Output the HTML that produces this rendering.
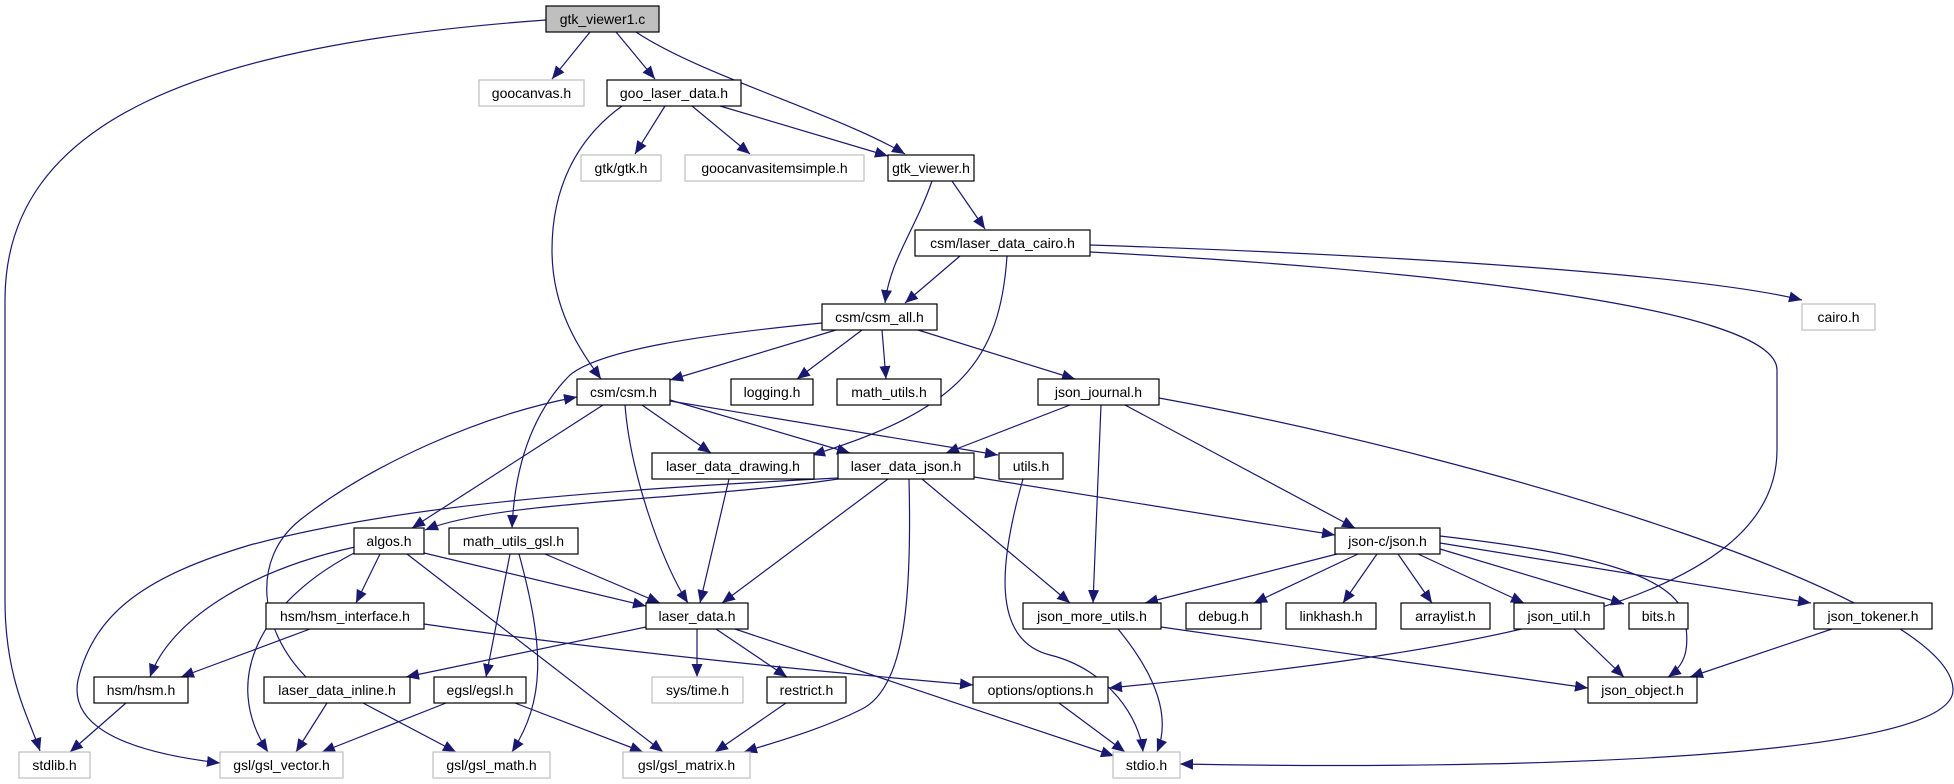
<!DOCTYPE html>
<html><head><meta charset="utf-8"><style>
html,body{margin:0;padding:0;background:#fff;}
svg{display:block;}
text{font-family:"Liberation Sans",sans-serif;font-size:14px;fill:#000;text-anchor:middle;}
.n{fill:#fff;stroke:#000;stroke-width:1.2;}
.g{fill:#fff;stroke:#bfbfbf;stroke-width:1.2;}
.r{fill:#bfbfbf;stroke:#000;stroke-width:1.2;}
path.e{fill:none;stroke:#191970;stroke-width:1.2;marker-end:url(#a);}
</style></head><body>
<svg width="1954" height="784" viewBox="0 0 1954 784" xmlns="http://www.w3.org/2000/svg">
<defs><marker id="a" markerUnits="userSpaceOnUse" markerWidth="14" markerHeight="12" refX="13" refY="6" orient="auto"><path d="M0,0.5 L13,6 L0,11.5 z" fill="#191970"/></marker></defs>
<g>
<path class="e" d="M546,20 C200,45 5,120 5,300 L5,600 C5,680 30,720 40,751"/>
<path class="e" d="M590,32 L552,79"/>
<path class="e" d="M616,32 L655,79"/>
<path class="e" d="M636,32 C700,75 840,115 905,154"/>
<path class="e" d="M622,106 C575,140 552,190 552,250 C552,310 580,350 601,379"/>
<path class="e" d="M665,106 L635,154"/>
<path class="e" d="M692,106 L750,154"/>
<path class="e" d="M720,106 L888,156"/>
<path class="e" d="M932,181 C915,230 890,260 885,303"/>
<path class="e" d="M952,181 L985,229"/>
<path class="e" d="M960,256 L905,303"/>
<path class="e" d="M1007,256 C1000,360 960,410 812,455"/>
<path class="e" d="M1090,245 C1400,255 1700,275 1802,300"/>
<path class="e" d="M1090,252 C1400,268 1777,305 1777,370 L1777,450 C1777,600 1500,650 1109,688"/>
<path class="e" d="M836,330 L670,380"/>
<path class="e" d="M862,330 L797,379"/>
<path class="e" d="M882,330 L886,379"/>
<path class="e" d="M918,330 L1075,379"/>
<path class="e" d="M822,323 C700,335 600,350 570,375 C535,410 515,460 512,528"/>
<path class="e" d="M603,405 L412,528"/>
<path class="e" d="M625,405 C630,470 660,560 688,603"/>
<path class="e" d="M642,405 L711,453"/>
<path class="e" d="M670,400 L850,453"/>
<path class="e" d="M670,401 L998,455"/>
<path class="e" d="M1070,405 L946,453"/>
<path class="e" d="M1101,405 L1093,603"/>
<path class="e" d="M1125,405 L1355,528"/>
<path class="e" d="M1159,398 C1500,460 1953,600 1953,690 C1953,760 1500,770 1180,764"/>
<path class="e" d="M729,479 L700,603"/>
<path class="e" d="M838,479 C700,500 500,500 425,530"/>
<path class="e" d="M838,478 C600,490 400,505 250,545 C150,575 95,610 78,680 C70,720 110,750 220,763"/>
<path class="e" d="M888,479 L722,603"/>
<path class="e" d="M909,479 C912,600 905,690 860,710 C820,730 775,742 744,752"/>
<path class="e" d="M922,479 L1070,603"/>
<path class="e" d="M974,477 L1335,535"/>
<path class="e" d="M1023,479 C1000,560 990,640 1050,655 C1110,670 1140,720 1143,752"/>
<path class="e" d="M355,547 C250,570 170,620 150,677"/>
<path class="e" d="M380,554 L356,603"/>
<path class="e" d="M360,550 C260,600 220,680 268,752"/>
<path class="e" d="M424,553 L646,606"/>
<path class="e" d="M407,554 L663,752"/>
<path class="e" d="M545,554 L660,603"/>
<path class="e" d="M510,554 L486,677"/>
<path class="e" d="M519,554 C545,650 545,700 512,752"/>
<path class="e" d="M1337,554 L1145,603"/>
<path class="e" d="M1358,554 L1254,603"/>
<path class="e" d="M1377,554 L1343,603"/>
<path class="e" d="M1398,554 L1432,603"/>
<path class="e" d="M1418,554 L1524,603"/>
<path class="e" d="M1440,549 L1624,604"/>
<path class="e" d="M1440,543 L1811,603"/>
<path class="e" d="M1440,536 C1560,550 1680,570 1685,620 C1690,650 1685,665 1668,677"/>
<path class="e" d="M310,629 L181,677"/>
<path class="e" d="M424,624 C600,650 800,670 973,685"/>
<path class="e" d="M646,627 L406,677"/>
<path class="e" d="M697,629 L697,677"/>
<path class="e" d="M716,629 L787,677"/>
<path class="e" d="M735,629 L1114,756"/>
<path class="e" d="M1118,629 C1160,680 1170,720 1157,752"/>
<path class="e" d="M1161,627 L1588,688"/>
<path class="e" d="M306,677 C260,630 250,560 300,520 C370,465 480,415 577,397"/>
<path class="e" d="M327,703 L296,752"/>
<path class="e" d="M363,703 L456,752"/>
<path class="e" d="M126,703 L70,752"/>
<path class="e" d="M446,703 L322,752"/>
<path class="e" d="M515,703 L643,752"/>
<path class="e" d="M786,703 L715,752"/>
<path class="e" d="M1059,703 L1125,752"/>
<path class="e" d="M1574,629 L1624,677"/>
<path class="e" d="M1832,629 L1690,677"/>
</g>
<g>
<rect class="r" x="546" y="6" width="113" height="26"/><text x="602.5" y="24">gtk_viewer1.c</text>
<rect class="g" x="479" y="80" width="105" height="26"/><text x="531.5" y="98">goocanvas.h</text>
<rect class="n" x="607" y="80" width="134" height="26"/><text x="674" y="98">goo_laser_data.h</text>
<rect class="g" x="581" y="155" width="80" height="26"/><text x="621" y="173">gtk/gtk.h</text>
<rect class="g" x="685" y="155" width="179" height="26"/><text x="774.5" y="173">goocanvasitemsimple.h</text>
<rect class="n" x="888" y="155" width="86" height="26"/><text x="931" y="173">gtk_viewer.h</text>
<rect class="n" x="915" y="230" width="175" height="26"/><text x="1002.5" y="248">csm/laser_data_cairo.h</text>
<rect class="n" x="822" y="304" width="115" height="26"/><text x="879.5" y="322">csm/csm_all.h</text>
<rect class="g" x="1802" y="304" width="73" height="26"/><text x="1838.5" y="322">cairo.h</text>
<rect class="n" x="577" y="379" width="93" height="26"/><text x="623.5" y="397">csm/csm.h</text>
<rect class="n" x="731" y="379" width="82" height="26"/><text x="772" y="397">logging.h</text>
<rect class="n" x="837" y="379" width="104" height="26"/><text x="889" y="397">math_utils.h</text>
<rect class="n" x="1038" y="379" width="121" height="26"/><text x="1098.5" y="397">json_journal.h</text>
<rect class="n" x="652" y="453" width="162" height="26"/><text x="733" y="471">laser_data_drawing.h</text>
<rect class="n" x="838" y="453" width="136" height="26"/><text x="906" y="471">laser_data_json.h</text>
<rect class="n" x="999" y="453" width="64" height="26"/><text x="1031" y="471">utils.h</text>
<rect class="n" x="354" y="528" width="70" height="26"/><text x="389" y="546">algos.h</text>
<rect class="n" x="449" y="528" width="129" height="26"/><text x="513.5" y="546">math_utils_gsl.h</text>
<rect class="n" x="1335" y="528" width="105" height="26"/><text x="1387.5" y="546">json-c/json.h</text>
<rect class="n" x="266" y="603" width="158" height="26"/><text x="345" y="621">hsm/hsm_interface.h</text>
<rect class="n" x="646" y="603" width="102" height="26"/><text x="697" y="621">laser_data.h</text>
<rect class="n" x="1023" y="603" width="138" height="26"/><text x="1092" y="621">json_more_utils.h</text>
<rect class="n" x="1186" y="603" width="75" height="26"/><text x="1223.5" y="621">debug.h</text>
<rect class="n" x="1286" y="603" width="90" height="26"/><text x="1331" y="621">linkhash.h</text>
<rect class="n" x="1401" y="603" width="89" height="26"/><text x="1445.5" y="621">arraylist.h</text>
<rect class="n" x="1514" y="603" width="90" height="26"/><text x="1559" y="621">json_util.h</text>
<rect class="n" x="1629" y="603" width="59" height="26"/><text x="1658.5" y="621">bits.h</text>
<rect class="n" x="1814" y="603" width="118" height="26"/><text x="1873" y="621">json_tokener.h</text>
<rect class="n" x="94" y="677" width="94" height="26"/><text x="141" y="695">hsm/hsm.h</text>
<rect class="n" x="264" y="677" width="146" height="26"/><text x="337" y="695">laser_data_inline.h</text>
<rect class="n" x="434" y="677" width="92" height="26"/><text x="480" y="695">egsl/egsl.h</text>
<rect class="g" x="652" y="677" width="91" height="26"/><text x="697.5" y="695">sys/time.h</text>
<rect class="n" x="767" y="677" width="79" height="26"/><text x="806.5" y="695">restrict.h</text>
<rect class="n" x="973" y="677" width="135" height="26"/><text x="1040.5" y="695">options/options.h</text>
<rect class="n" x="1588" y="677" width="109" height="26"/><text x="1642.5" y="695">json_object.h</text>
<rect class="g" x="19" y="752" width="71" height="26"/><text x="54.5" y="770">stdlib.h</text>
<rect class="g" x="220" y="752" width="123" height="26"/><text x="281.5" y="770">gsl/gsl_vector.h</text>
<rect class="g" x="433" y="752" width="117" height="26"/><text x="491.5" y="770">gsl/gsl_math.h</text>
<rect class="g" x="623" y="752" width="127" height="26"/><text x="686.5" y="770">gsl/gsl_matrix.h</text>
<rect class="g" x="1113" y="752" width="67" height="26"/><text x="1146.5" y="770">stdio.h</text>
</g>
</svg>
</body></html>
